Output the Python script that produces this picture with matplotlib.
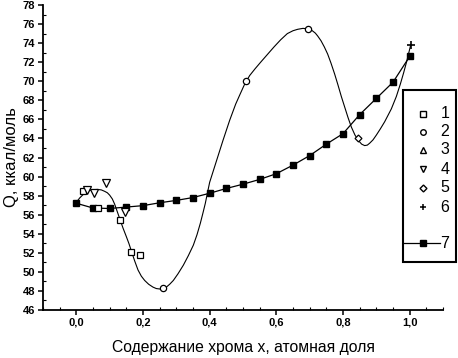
import matplotlib
matplotlib.use("Agg")
import matplotlib.pyplot as plt
from matplotlib.lines import Line2D
from matplotlib.patches import Rectangle
from matplotlib.ticker import MultipleLocator, FuncFormatter

plt.rcParams['font.family'] = ['Liberation Sans', 'DejaVu Sans']

# ---- data ----
s1_x = [0.019, 0.064, 0.130, 0.165, 0.192]
s1_y = [58.5, 56.7, 55.4, 52.1, 51.8]

s2_x = [0.261, 0.510, 0.694]
s2_y = [48.35, 70.05, 75.5]

s3_x = []
s3_y = []

s4_x = [0.033, 0.054, 0.090, 0.145]
s4_y = [58.6, 58.25, 59.3, 56.3]

s5_x = [0.846]
s5_y = [64.0]

s6_x = [1.003]
s6_y = [73.8]

s7_x = [0.00, 0.05, 0.10, 0.15, 0.20, 0.25, 0.30, 0.35, 0.40, 0.45, 0.50,
        0.55, 0.60, 0.65, 0.70, 0.75, 0.80, 0.85, 0.90, 0.95, 1.00]
s7_y = [57.2, 56.7, 56.65, 56.8, 56.95, 57.25, 57.5, 57.8, 58.25, 58.75, 59.2,
        59.7, 60.3, 61.2, 62.2, 63.4, 64.5, 66.5, 68.2, 69.9, 72.6]

# smooth guide curve
curve_x = [0.000, 0.010, 0.020, 0.030, 0.040, 0.052, 0.064, 0.075, 0.085, 0.093,
           0.100, 0.108, 0.115, 0.122, 0.130, 0.140, 0.150, 0.158, 0.165, 0.175,
           0.185, 0.195, 0.205, 0.217, 0.230, 0.240, 0.251, 0.260, 0.270, 0.280,
           0.291, 0.305, 0.321, 0.336, 0.351, 0.362, 0.372, 0.380, 0.387, 0.394,
           0.400, 0.420, 0.440, 0.460, 0.478, 0.492, 0.505, 0.520, 0.536, 0.553,
           0.573, 0.593, 0.613, 0.633, 0.650, 0.664, 0.680, 0.694, 0.708, 0.717,
           0.724, 0.734, 0.744, 0.754, 0.764, 0.775, 0.785, 0.795, 0.805, 0.815,
           0.825, 0.836, 0.847, 0.856, 0.865, 0.873, 0.880, 0.890, 0.900, 0.912,
           0.925, 0.945, 0.960, 0.972, 0.982, 0.992, 1.003]
curve_y = [57.3, 57.75, 58.1, 58.35, 58.55, 58.63, 58.65, 58.6, 58.45, 58.3,
           58.05, 57.65, 57.1, 56.4, 55.6, 54.6, 53.7, 52.95, 52.2, 51.15,
           50.2, 49.55, 49.1, 48.7, 48.4, 48.25, 48.2, 48.25, 48.4, 48.7,
           49.1, 49.8, 50.7, 51.7, 52.8, 53.9, 55.1, 56.2, 57.2, 58.4,
           59.4, 61.6, 63.8, 65.9, 67.6, 68.7, 69.7, 70.6, 71.3, 72.0,
           72.8, 73.6, 74.35, 75.0, 75.3, 75.45, 75.55, 75.5, 75.3, 75.05,
           74.75, 74.25, 73.6, 72.85, 71.9, 70.75, 69.6, 68.4, 67.3, 66.2,
           65.2, 64.35, 63.75, 63.4, 63.25, 63.3, 63.5, 63.85, 64.35, 65.0,
           65.75, 67.1, 68.4, 69.7, 70.9, 72.2, 73.8]

legend_labels = ['1', '2', '3', '4', '5', '6', '7']

W, H = 458, 358
fig = plt.figure(figsize=(W / 100, H / 100), dpi=100)
ax = fig.add_axes([43 / W, 1 - 310 / H, 400 / W, 305 / H])

ax.plot(curve_x, curve_y, color='black', lw=0.8, zorder=2)
ax.plot(s7_x, s7_y, color='black', lw=0.9, marker='s', ms=4.5, mfc='black', mec='black', zorder=3)
mk = dict(ls='none', color='black', mfc='white', mec='black', mew=0.9, zorder=4)
ax.plot(s1_x, s1_y, marker='s', ms=5, **mk)
ax.plot(s2_x, s2_y, marker='o', ms=4.5, **mk)
ax.plot(s3_x, s3_y, marker='^', ms=5, **mk)
ax.plot(s4_x, s4_y, marker='v', ms=5.5, **mk)
ax.plot(s5_x, s5_y, marker='D', ms=3.5, **mk)
ax.plot(s6_x, s6_y, marker='+', ms=6, ls='none', color='black', mew=1.2, zorder=4)

ax.set_xlim(-0.1, 1.1)
ax.set_ylim(46, 78)
for s in ['top', 'right']:
    ax.spines[s].set_visible(False)
for s in ['left', 'bottom']:
    ax.spines[s].set_linewidth(1.3)

ax.xaxis.set_major_locator(MultipleLocator(0.2))
ax.xaxis.set_minor_locator(MultipleLocator(0.05))
ax.yaxis.set_major_locator(MultipleLocator(2))
ax.yaxis.set_minor_locator(MultipleLocator(1))
ax.xaxis.set_major_formatter(FuncFormatter(lambda v, p: ('%.1f' % v).replace('.', ',') if v > -0.05 and v < 1.05 else ''))
ax.yaxis.set_major_formatter(FuncFormatter(lambda v, p: '%d' % round(v)))
ax.tick_params(which='major', direction='out', length=3.5, width=1.1, labelsize=8, pad=2)
ax.tick_params(which='minor', direction='in', length=2, width=0.8)
for lbl in ax.get_xticklabels() + ax.get_yticklabels():
    lbl.set_fontweight('bold')

ax.set_xlabel('Содержание хрома x, атомная доля', fontsize=11.3, labelpad=9)
ax.set_ylabel('Q, ккал/моль', fontsize=12, labelpad=3)

# legend box drawn in figure pixel coordinates
def fx(px):
    return px / W

def fy(py):
    return 1 - py / H

fig.add_artist(Rectangle((fx(402.5), fy(262)), fx(456) - fx(402.5), fy(90) - fy(262),
                         transform=fig.transFigure, fill=False, ec='black', lw=1.5))
rows = [114, 132, 150, 169, 188, 207, 243]
styles = [dict(marker='s', ms=4, mfc='white'), dict(marker='o', ms=4, mfc='white'),
          dict(marker='^', ms=4.5, mfc='white'), dict(marker='v', ms=4.5, mfc='white'),
          dict(marker='D', ms=3.5, mfc='white'), dict(marker='+', ms=5, mew=1.1),
          dict(marker='s', ms=4.5, mfc='black')]
for r, lab, st in zip(rows, legend_labels, styles):
    if lab == '7':
        fig.add_artist(Line2D([fx(403), fx(440)], [fy(r), fy(r)], transform=fig.transFigure,
                              color='black', lw=0.9))
    fig.add_artist(Line2D([fx(423)], [fy(r)], transform=fig.transFigure, ls='none',
                          color='black', mec='black', **st))
    fig.text(fx(445), fy(r), lab, fontsize=11.5, ha='center', va='center')

fig.savefig('out.png', dpi=100)
